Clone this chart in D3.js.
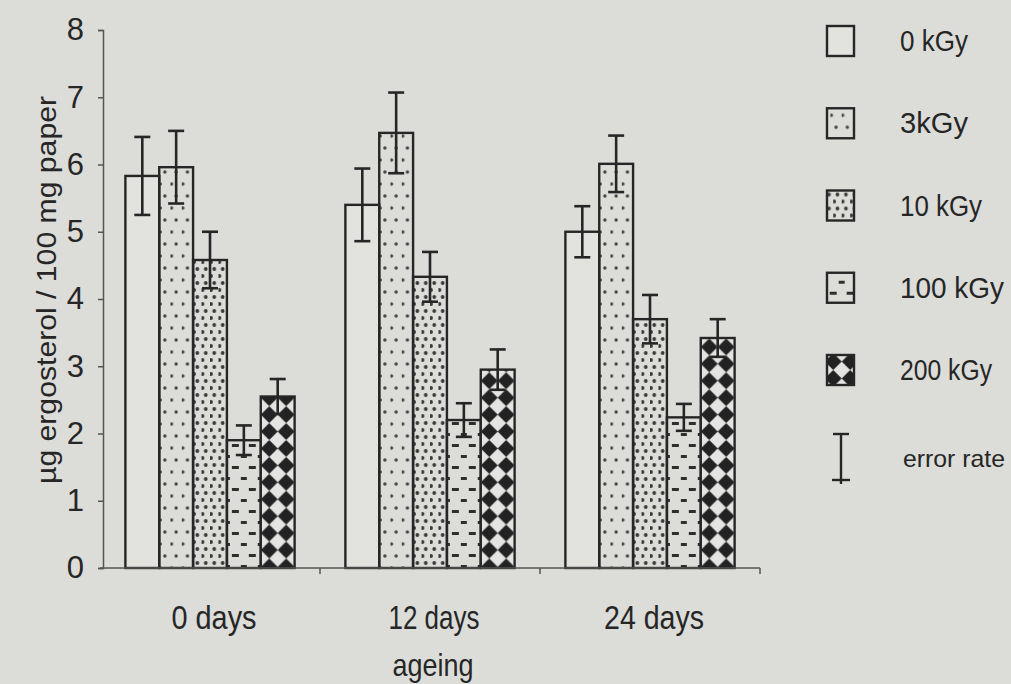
<!DOCTYPE html>
<html>
<head>
<meta charset="utf-8">
<script src="https://cdn.jsdelivr.net/npm/d3@7"></script>
<style>
  body { margin: 0; background: #dcdcd9; }
  svg text { font-family: "Liberation Sans Narrow", "Liberation Sans", Arial, sans-serif; fill: #262626; }
</style>
</head>
<body>
<div id="chart"></div>
<script>
// data
const ages = ['0 days', '12 days', '24 days'];
const doses = ['0 kGy', '3kGy', '10 kGy', '100 kGy', '200 kGy'];
const means = [
  [5.83, 5.96, 4.58, 1.90, 2.55],   // 0 days
  [5.40, 6.47, 4.33, 2.20, 2.95],   // 12 days
  [5.00, 6.01, 3.70, 2.24, 3.42]    // 24 days
];
const errors = [
  [0.58, 0.54, 0.42, 0.22, 0.26],
  [0.54, 0.60, 0.37, 0.25, 0.30],
  [0.38, 0.42, 0.36, 0.20, 0.28]
];
const yTicks = [0, 1, 2, 3, 4, 5, 6, 7, 8];

const width = 1011, height = 684;
const ink = '#262626';

const svg = d3.select('#chart').append('svg')
  .attr('width', width).attr('height', height)
  .attr('viewBox', [0, 0, width, height]);

svg.append('rect').attr('width', width).attr('height', height).attr('fill', '#dcdcd9');

const x0 = d3.scaleBand().domain(ages).range([100, 760]).padding(0);
const x1 = d3.scaleBand().domain(doses).range([0, x0.bandwidth()])
  .paddingInner(0).paddingOuter(0.75);
const y = d3.scaleLinear().domain([0, 8]).range([568, 30]);

const rows = [];
ages.forEach((a, i) => doses.forEach((d, j) => rows.push({
  age: a, dose: d, j: j, v: means[i][j], e: errors[i][j]
})));

// fill patterns, one per bar so they line up with the bar edges
const defs = svg.append('defs');
function makePattern(id, dose, ox) {
  const bw = x1.bandwidth();
  if (dose === '3kGy') {
    const p = defs.append('pattern').attr('id', id).attr('patternUnits', 'userSpaceOnUse')
      .attr('x', ox).attr('y', 0).attr('width', bw / 3).attr('height', 24);
    p.append('circle').attr('cx', bw / 6).attr('cy', 4).attr('r', 1.7).attr('fill', '#444');
    p.append('circle').attr('cx', 1).attr('cy', 16).attr('r', 1.7).attr('fill', '#444');
  } else if (dose === '10 kGy') {
    const p = defs.append('pattern').attr('id', id).attr('patternUnits', 'userSpaceOnUse')
      .attr('x', ox).attr('y', 0).attr('width', bw / 4).attr('height', 14);
    p.append('circle').attr('cx', bw / 8).attr('cy', 3).attr('r', 1.9).attr('fill', '#3a3a3a');
    p.append('circle').attr('cx', 1).attr('cy', 10).attr('r', 1.9).attr('fill', '#3a3a3a');
  } else if (dose === '100 kGy') {
    const p = defs.append('pattern').attr('id', id).attr('patternUnits', 'userSpaceOnUse')
      .attr('x', ox).attr('y', 0).attr('width', bw / 2).attr('height', 22);
    p.append('rect').attr('x', bw / 4 - 3.5).attr('y', 4).attr('width', 7).attr('height', 3).attr('fill', '#2e2e2e');
    p.append('rect').attr('x', -2).attr('y', 15).attr('width', 5).attr('height', 3).attr('fill', '#2e2e2e');
    p.append('rect').attr('x', bw / 2 - 3).attr('y', 15).attr('width', 5).attr('height', 3).attr('fill', '#2e2e2e');
  } else if (dose === '200 kGy') {
    const t = bw / 2;
    const p = defs.append('pattern').attr('id', id).attr('patternUnits', 'userSpaceOnUse')
      .attr('x', ox).attr('y', 0).attr('width', t).attr('height', t);
    p.append('rect').attr('width', t).attr('height', t).attr('fill', '#e4e4e2');
    p.append('path').attr('d', `M${t / 2},0L${t},${t / 2}L${t / 2},${t}L0,${t / 2}Z`).attr('fill', '#222');
  }
}
function fillFor(d, i) {
  if (d.dose === '0 kGy') return '#e2e2df';
  const id = 'pat' + i;
  makePattern(id, d.dose, x0(d.age) + x1(d.dose));
  return `url(#${id})`;
}

// bars
svg.append('g').selectAll('rect').data(rows).join('rect')
  .attr('x', d => x0(d.age) + x1(d.dose))
  .attr('y', d => y(d.v))
  .attr('width', x1.bandwidth())
  .attr('height', d => y(0) - y(d.v))
  .attr('fill', (d, i) => fillFor(d, i))
  .attr('stroke', ink).attr('stroke-width', 2.4);

// error bars
const eb = svg.append('g').attr('stroke', ink).attr('stroke-width', 2.6)
  .selectAll('g').data(rows).join('g')
  .attr('transform', d => `translate(${x0(d.age) + x1(d.dose) + x1.bandwidth() / 2},0)`);
eb.append('line').attr('y1', d => y(d.v + d.e)).attr('y2', d => y(d.v - d.e));
eb.append('line').attr('x1', -8).attr('x2', 8).attr('y1', d => y(d.v + d.e)).attr('y2', d => y(d.v + d.e));
eb.append('line').attr('x1', -8).attr('x2', 8).attr('y1', d => y(d.v - d.e)).attr('y2', d => y(d.v - d.e));

// y axis
const yAxis = svg.append('g').attr('transform', 'translate(103,0)')
  .call(d3.axisLeft(y).tickValues(yTicks).tickSize(5).tickPadding(14));
yAxis.select('.domain').attr('stroke', '#555').attr('stroke-width', 1.5);
yAxis.selectAll('.tick line').attr('stroke', '#555').attr('stroke-width', 1.5);
yAxis.selectAll('.tick text').attr('font-size', 31).attr('fill', ink)
  .attr('font-family', 'Liberation Sans, Arial, sans-serif');

// x axis: line with ticks at the band boundaries
const xAxis = svg.append('g').attr('transform', `translate(0,${y(0)})`);
xAxis.append('line').attr('x1', 100).attr('x2', 760).attr('stroke', '#555').attr('stroke-width', 1.5);
xAxis.selectAll('line.tk').data(ages).join('line').attr('class', 'tk')
  .attr('x1', d => x0(d) + x0.bandwidth()).attr('x2', d => x0(d) + x0.bandwidth())
  .attr('y1', 0).attr('y2', 6).attr('stroke', '#555').attr('stroke-width', 1.5);
const labW = [85, 91, 100];
xAxis.selectAll('text').data(ages).join('text')
  .attr('x', d => x0(d) + x0.bandwidth() / 2 + 4)
  .attr('y', 61)
  .attr('text-anchor', 'middle').attr('font-size', 34)
  .attr('textLength', (d, i) => labW[i]).attr('lengthAdjust', 'spacingAndGlyphs')
  .text(d => d);

svg.append('text').attr('x', 433).attr('y', 676).attr('text-anchor', 'middle')
  .attr('font-size', 32).attr('textLength', 81).attr('lengthAdjust', 'spacingAndGlyphs')
  .text('ageing');

svg.append('text').attr('transform', 'translate(56,290) rotate(-90)')
  .attr('text-anchor', 'middle').attr('font-size', 28)
  .attr('textLength', 388).attr('lengthAdjust', 'spacingAndGlyphs')
  .text('µg ergosterol / 100 mg paper');

// legend
const legY = d3.scalePoint().domain(doses).range([41, 370]);
const legW = [68, 68, 82, 104, 92];
const leg = svg.append('g').selectAll('g').data(doses).join('g')
  .attr('transform', d => `translate(827,${legY(d)})`);
leg.append('rect').attr('x', 0).attr('y', -15).attr('width', 27).attr('height', 30)
  .attr('fill', (d, i) => {
    if (d === '0 kGy') return '#e2e2df';
    const id = 'leg' + i;
    makePattern(id, d, 827);
    return `url(#${id})`;
  })
  .attr('stroke', ink).attr('stroke-width', 2.4);
leg.append('text').attr('x', 73).attr('y', 10).attr('font-size', 29)
  .attr('textLength', (d, i) => legW[i]).attr('lengthAdjust', 'spacingAndGlyphs')
  .text(d => d);

const er = svg.append('g').attr('transform', 'translate(841,0)')
  .attr('stroke', ink).attr('stroke-width', 2.4);
er.append('line').attr('x1', -8).attr('x2', 8).attr('y1', 434).attr('y2', 434);
er.append('line').attr('x1', 0).attr('x2', 0).attr('y1', 434).attr('y2', 484);
er.append('line').attr('x1', -9).attr('x2', 9).attr('y1', 480).attr('y2', 480);
svg.append('text').attr('x', 903).attr('y', 467).attr('font-size', 24)
  .attr('textLength', 102).attr('lengthAdjust', 'spacingAndGlyphs')
  .text('error rate');
</script>
</body>
</html>
